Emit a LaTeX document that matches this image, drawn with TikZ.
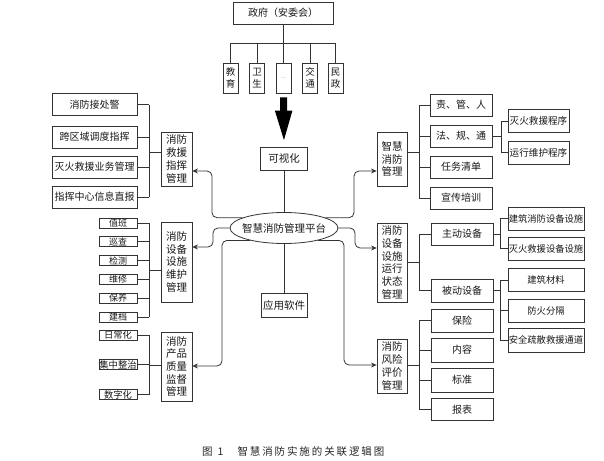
\documentclass[tikz,border=0pt]{standalone}
\usepackage{fontspec}
\newfontfamily\cjk{Noto Sans CJK SC}
\newfontfamily\capfont[LetterSpace=18]{Noto Sans CJK SC}
\usetikzlibrary{shapes.geometric,arrows.meta,calc}
\begin{document}
\begin{tikzpicture}[x=1pt,y=-1pt,
  bx/.style={draw=black!80, line width=0.8pt, fill=white, inner sep=0pt, align=center,
    font=\cjk\fontsize{10}{12.7}\selectfont, text=black!90},
  mainbox/.style={bx, minimum width=31pt, font=\cjk\fontsize{10.5}{12.7}\selectfont},
  item/.style={bx, minimum width=85pt, minimum height=22pt},
  tiny/.style={bx, minimum width=38pt, minimum height=10pt, font=\cjk\fontsize{9}{9}\selectfont},
  ritem/.style={bx, minimum width=62pt, minimum height=22pt},
  sitem/.style={bx, minimum width=76pt, minimum height=23pt, font=\cjk\fontsize{9.3}{11}\selectfont},
  sm/.style={bx, minimum width=15pt, minimum height=30pt, font=\cjk\fontsize{9.5}{12}\selectfont},
  ln/.style={draw=black!80, line width=0.8pt},
  conn/.style={ln, rounded corners=5pt, -{Stealth[length=5.5pt,width=5pt]}}]
\useasboundingbox (0,0) rectangle (604,460);

% ---- top: government ----
\node[bx, minimum width=100pt, minimum height=22pt] (gov) at (283,13) {政府（安委会）};
\node[sm] (d1) at (230.5,78) {教\\育};
\node[sm] (d2) at (257,78) {卫\\生};
\node[sm] (d3) at (283.5,78) {\textcolor{black!40}{\fontsize{6}{6}\selectfont ...}};
\node[sm] (d4) at (310,78) {交\\通};
\node[sm] (d5) at (335.5,78) {民\\政};
\coordinate (bus) at (283,43);
\draw[ln] (gov.south) -- (bus);
\draw[ln] (d1.north) -- (d1.north |- bus) -- (d5.north |- bus) -- (d5.north);
\foreach \n in {d2,d3,d4} \draw[ln] (\n.north) -- (\n.north |- bus);

% ---- centre ----
\node[bx, minimum width=47pt, minimum height=23pt, font=\cjk\fontsize{10.5}{12}\selectfont] (kv) at (284,158.5) {可视化};
\node[bx, ellipse, minimum width=108pt, minimum height=31pt] (ell) at (284,228) {};
\node[font=\cjk\fontsize{10.5}{12}\selectfont, text=black!90, inner sep=0pt] (ellt) at (ell.center) {智慧消防管理平台};
\node[bx, minimum width=46pt, minimum height=24pt, font=\cjk\fontsize{10.5}{12}\selectfont] (app) at (284,305) {应用软件};
\draw[ln] (kv.south) -- (ell.north);
\draw[ln] (ell.south) -- (app.north);
\draw[line width=7pt, black, -{Triangle[length=33pt 0 0,width=15pt 0 0]}, shorten <=4pt, shorten >=3pt] (d3.south) -- (kv.north);

% ---- left group 1 ----
\node[mainbox, minimum height=54pt] (m1) at (176.5,159) {消防\\救援\\指挥\\管理};
\node[item] (L1a) at (94.5,104.5) {消防接处警};
\node[item] (L1b) at (94.5,137) {跨区域调度指挥};
\node[item] (L1c) at (94.5,167) {灭火救援业务管理};
\node[item] (L1d) at (94.5,197) {指挥中心信息直报};
\coordinate (bl1) at (149,152);
\foreach \n in {L1a,L1b,L1c,L1d} \draw[ln] (\n.east) -- (\n.east -| bl1);
\draw[ln] (L1a.east -| bl1) -- (L1d.east -| bl1);
\draw[ln] (bl1) -- (bl1 -| m1.west);

% ---- left group 2 ----
\node[mainbox, minimum height=80pt] (m2) at (176.5,262) {消防\\设备\\设施\\维护\\管理};
\node[tiny] (L2a) at (118,223) {值班};
\node[tiny] (L2b) at (118,241.8) {巡查};
\node[tiny] (L2c) at (118,260.6) {检测};
\node[tiny] (L2d) at (118,279.4) {维修};
\node[tiny] (L2e) at (118,298.2) {保养};
\node[tiny] (L2f) at (118,317) {建档};
\coordinate (bl2) at (149,270);
\foreach \n in {L2a,L2b,L2c,L2d,L2e,L2f} \draw[ln] (\n.east) -- (\n.east -| bl2);
\draw[ln] (L2a.east -| bl2) -- (L2f.east -| bl2);
\draw[ln] (bl2) -- (bl2 -| m2.west);

% ---- left group 3 ----
\node[mainbox, minimum height=69pt] (m3) at (176.5,366.5) {消防\\产品\\质量\\监督\\管理};
\node[tiny, font=\cjk\fontsize{9.3}{10}\selectfont] (L3a) at (118,335) {日常化};
\node[tiny, font=\cjk\fontsize{9.3}{10}\selectfont] (L3b) at (118,364.5) {集中整治};
\node[tiny, font=\cjk\fontsize{9.3}{10}\selectfont] (L3c) at (118,394.5) {数字化};
\coordinate (bl3) at (149,365);
\foreach \n in {L3a,L3b,L3c} \draw[ln] (\n.east) -- (\n.east -| bl3);
\draw[ln] (L3a.east -| bl3) -- (L3c.east -| bl3);
\draw[ln] (bl3) -- (bl3 -| m3.west);

% ---- right group 1 ----
\node[mainbox, minimum width=30pt, minimum height=54pt] (r1) at (392,159) {智慧\\消防\\管理};
\node[ritem] (R1a) at (461,105) {责、管、人};
\node[ritem] (R1b) at (461,136) {法、规、通};
\node[ritem] (R1c) at (461,167) {任务清单};
\node[ritem] (R1d) at (461,198) {宣传培训};
\coordinate (br1) at (419,152);
\foreach \n in {R1a,R1b,R1c,R1d} \draw[ln] (\n.west) -- (\n.west -| br1);
\draw[ln] (R1a.west -| br1) -- (R1d.west -| br1);
\draw[ln] (br1) -- (br1 -| r1.east);
\node[sitem, minimum width=61pt, font=\cjk\fontsize{9.6}{11}\selectfont] (S1a) at (538.5,121) {灭火救援程序};
\node[sitem, minimum width=61pt, font=\cjk\fontsize{9.6}{11}\selectfont] (S1b) at (538.5,152.5) {运行维护程序};
\coordinate (bs1) at (501,136);
\draw[ln] (R1b.east) -- (R1b.east -| bs1);
\draw[ln] (S1a.west -| bs1) -- (S1b.west -| bs1);
\foreach \n in {S1a,S1b} \draw[ln] (\n.west) -- (\n.west -| bs1);

% ---- right group 2 ----
\node[mainbox, minimum width=30pt, minimum height=79pt] (r2) at (392,262.5) {消防\\设备\\设施\\运行\\状态\\管理};
\node[ritem] (R2a) at (462,234) {主动设备};
\node[ritem, minimum height=23pt] (R2b) at (462,290.5) {被动设备};
\coordinate (br2) at (419,262);
\foreach \n in {R2a,R2b} \draw[ln] (\n.west) -- (\n.west -| br2);
\draw[ln] (R2a.west -| br2) -- (R2b.west -| br2);
\draw[ln] (br2) -- (br2 -| r2.east);
\node[sitem] (S2a) at (546,218.5) {建筑消防设备设施};
\node[sitem] (S2b) at (546,248.5) {灭火救援设备设施};
\coordinate (bs2) at (500,234);
\draw[ln] (R2a.east) -- (R2a.east -| bs2);
\draw[ln] (S2a.west -| bs2) -- (S2b.west -| bs2);
\foreach \n in {S2a,S2b} \draw[ln] (\n.west) -- (\n.west -| bs2);
\node[sitem] (S3a) at (546,280) {建筑材料};
\node[sitem] (S3b) at (546,310.5) {防火分隔};
\node[sitem, minimum height=24pt] (S3c) at (546,340) {安全疏散救援通道};
\coordinate (bs3) at (500,291);
\draw[ln] (R2b.east) -- (R2b.east -| bs3);
\draw[ln] (S3a.west -| bs3) -- (S3c.west -| bs3);
\foreach \n in {S3a,S3b,S3c} \draw[ln] (\n.west) -- (\n.west -| bs3);

% ---- right group 3 ----
\node[mainbox, minimum width=30pt, minimum height=54pt] (r3) at (392,366) {消防\\风险\\评价\\管理};
\node[ritem, minimum height=23pt] (R3a) at (462,320.5) {保险};
\node[ritem, minimum height=24pt] (R3b) at (462,350) {内容};
\node[ritem, minimum height=24pt] (R3c) at (462,380) {标准};
\node[ritem] (R3d) at (462,409.5) {报表};
\coordinate (br3) at (419,365);
\foreach \n in {R3a,R3b,R3c,R3d} \draw[ln] (\n.west) -- (\n.west -| br3);
\draw[ln] (R3a.west -| br3) -- (R3d.west -| br3);
\draw[ln] (br3) -- (br3 -| r3.east);

% ---- platform connectors ----
\draw[conn] (ell.166) -| (212,171) -- (m1.east |- 212,171);
\draw[conn] (ell.west) -| (213,247) -- (m2.east |- 213,247);
\draw[conn] (ell.200) -| (222,366) -- (m3.east |- 222,366);
\draw[conn] (ell.14) -| (354,171) -- (r1.west |- 354,171);
\draw[conn] (ell.east) -| (355,248) -- (r2.west |- 355,248);
\draw[conn] (ell.340) -| (344,365) -- (r3.west |- 344,365);

% ---- caption ----
\node[font=\capfont\fontsize{10.5}{12}\selectfont, text=black!85, anchor=west, inner sep=0pt] (cap) at (202,452) {图\hspace{5pt}1\hspace{14pt}智慧消防实施的关联逻辑图};
\end{tikzpicture}
\end{document}
